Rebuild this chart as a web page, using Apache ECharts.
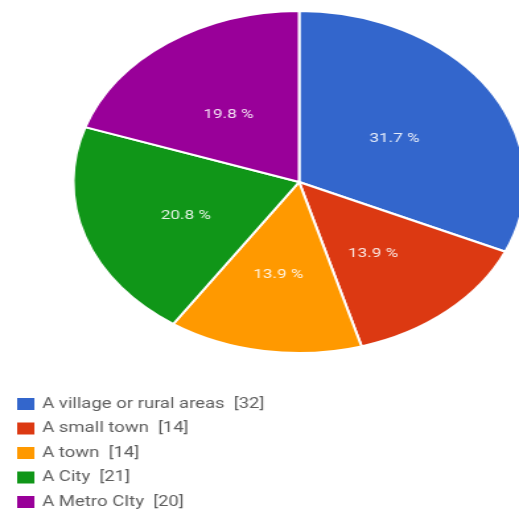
<!DOCTYPE html>
<html>
<head>
<meta charset="utf-8">
<script src="https://cdn.jsdelivr.net/npm/echarts@6/dist/echarts.min.js"></script>
<style>
  html, body { margin: 0; padding: 0; background: #fff; overflow: hidden; }
  /* the reference picture is stretched sideways, so draw narrow and widen */
  #chart {
    width: 393px;
    height: 512px;
    transform: scaleX(1.3206);
    transform-origin: 0 0;
  }
</style>
</head>
<body>
<div id="chart"></div>
<script>
// 数据
const categories = ['A village or rural areas', 'A small town', 'A town', 'A City', 'A Metro CIty']
const counts = [32, 14, 14, 21, 20]

const palette = ['#3366cc', '#dc3912', '#ff9900', '#109618', '#990099']

const total = counts.reduce((s, v) => s + v, 0)

const chart = echarts.init(document.getElementById('chart'), null, { renderer: 'canvas' })

const pieData = categories.map((name, i) => ({ name, value: counts[i] }))

// 图例一行一个，免得换列
const legends = categories.map((name, i) => ({
  orient: 'vertical',
  left: 11,
  top: 396 + i * 24.5,
  padding: 0,
  itemWidth: 15,
  itemHeight: 14,
  icon: 'rect',
  data: [name],
  textStyle: {
    color: '#5e5e5e',
    fontSize: 14,
    fontFamily: 'Roboto'
  },
  formatter: (n) => `${n}  [${counts[categories.indexOf(n)]}]`
}))

chart.setOption({
  color: palette,
  animation: false,
  legend: legends,
  series: [{
    type: 'pie',
    center: [226.5, 182],
    radius: 171,
    startAngle: 90,
    clockwise: true,
    itemStyle: {
      borderColor: '#ffffff',
      borderWidth: 2
    },
    label: {
      show: true,
      position: 'inside',
      // 每块单独四舍五入，和原图一样
      formatter: (p) => `${(p.value / total * 100).toFixed(1)} %`,
      color: 'rgba(255,255,255,0.88)',
      fontSize: 13,
      fontFamily: 'Roboto',
      offset: [-2, 5]
    },
    labelLine: { show: false },
    emphasis: { disabled: true },
    data: pieData
  }]
})
</script>
</body>
</html>
